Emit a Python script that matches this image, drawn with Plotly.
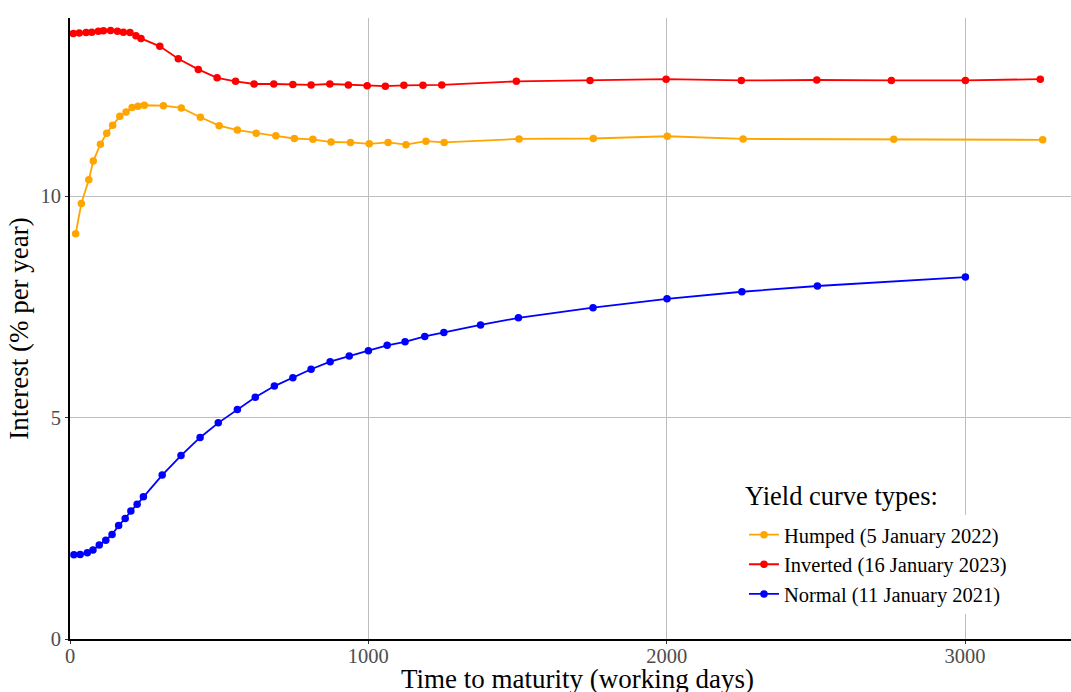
import plotly.graph_objects as go

# Maturities (working days) and annual rates (%) for each curve
humped_days = [19, 38, 63, 78, 102, 123, 143, 167, 188, 208, 228, 249, 313, 373, 437, 500,
               561, 624, 690, 752, 814, 875, 940, 1003, 1066, 1126, 1193, 1254, 1505, 1754,
               2002, 2256, 2761, 3260]
humped_rate = [9.15, 9.83, 10.37, 10.79, 11.17, 11.42, 11.60, 11.80, 11.90, 12.00, 12.03, 12.05,
               12.04, 11.99, 11.78, 11.59, 11.49, 11.42, 11.36, 11.30, 11.28, 11.22, 11.21, 11.18,
               11.21, 11.16, 11.24, 11.21, 11.29, 11.30, 11.35, 11.29, 11.28, 11.27]

inverted_days = [11, 31, 54, 73, 95, 112, 136, 159, 179, 201, 221, 238, 301, 363, 430, 493,
                 555, 617, 683, 747, 808, 871, 933, 996, 1057, 1119, 1183, 1246, 1496, 1743,
                 1998, 2250, 2503, 2753, 3001, 3252]
inverted_rate = [13.67, 13.68, 13.69, 13.70, 13.72, 13.73, 13.74, 13.72, 13.70, 13.69, 13.62, 13.56,
                 13.38, 13.10, 12.86, 12.67, 12.59, 12.53, 12.53, 12.52, 12.51, 12.53, 12.51, 12.49,
                 12.48, 12.50, 12.50, 12.51, 12.59, 12.61, 12.64, 12.61, 12.62, 12.61, 12.61, 12.64]

normal_days = [13, 34, 58, 77, 98, 120, 141, 163, 185, 204, 225, 246, 309, 372, 436, 497, 561,
               621, 685, 747, 808, 872, 936, 1000, 1063, 1123, 1189, 1253, 1376, 1503, 1753, 2001,
               2252, 2505, 3001]
normal_rate = [1.90, 1.91, 1.95, 2.01, 2.12, 2.23, 2.36, 2.56, 2.72, 2.89, 3.04, 3.21, 3.70, 4.14,
               4.55, 4.88, 5.18, 5.46, 5.71, 5.90, 6.09, 6.26, 6.39, 6.51, 6.63, 6.71, 6.83, 6.92,
               7.09, 7.25, 7.48, 7.68, 7.84, 7.97, 8.17]

series = [
    ("Humped (5 January 2022)", humped_days, humped_rate, "#FFA500"),
    ("Inverted (16 January 2023)", inverted_days, inverted_rate, "#FF0000"),
    ("Normal (11 January 2021)", normal_days, normal_rate, "#0000FF"),
]

FONT = "Liberation Serif, Times New Roman, serif"

fig = go.Figure()
for name, xs, ys, color in series:
    fig.add_trace(go.Scatter(
        x=xs, y=ys, name=name, mode="lines+markers",
        line=dict(color=color, width=1.8),
        marker=dict(color=color, size=7.5),
    ))

# white panel behind the legend block (hides gridlines, stays under the data)
fig.add_shape(
    type="rect", xref="paper", yref="paper",
    x0=0.667, x1=0.979, y0=0.0322, y1=0.2641,
    fillcolor="white", line=dict(width=0), layer="between",
)

# legend heading
fig.add_annotation(
    text="Yield curve types:", xref="paper", yref="paper",
    x=0.6723, y=0.2303, xanchor="left", yanchor="middle", showarrow=False,
    font=dict(size=26.5, family=FONT, color="black"),
)

# x-axis title
fig.add_annotation(
    text="Time to maturity (working days)", xref="paper", yref="paper",
    x=0.5065, y=-0.0641, xanchor="center", yanchor="middle", showarrow=False,
    font=dict(size=27, family=FONT, color="black"),
)

fig.update_layout(
    width=1071, height=692,
    margin=dict(l=70, r=0, t=18, b=53),
    paper_bgcolor="white", plot_bgcolor="white",
    font=dict(family=FONT, color="black"),
    showlegend=True,
    legend=dict(
        font=dict(size=20.5, family=FONT, color="black"),
        x=0.6733, xanchor="left", y=0.2, yanchor="top",
        bgcolor="white", traceorder="normal",
        itemwidth=30, tracegroupgap=0,
    ),
    xaxis=dict(
        range=[0, 3355], tickvals=[0, 1000, 2000, 3000],
        showgrid=True, gridcolor="#BEBEBE", gridwidth=1.4,
        showline=True, linecolor="black", linewidth=1.6,
        ticks="outside", ticklen=3, tickcolor="#333333",
        tickfont=dict(size=20.5, color="#4D4D4D", family=FONT),
        ticklabelstandoff=-5,
        zeroline=False,
    ),
    yaxis=dict(
        range=[0, 14.02], tickvals=[0, 5, 10],
        showgrid=True, gridcolor="#BEBEBE", gridwidth=1.4,
        showline=True, linecolor="black", linewidth=1.6,
        ticks="outside", ticklen=3, tickcolor="#333333",
        tickfont=dict(size=20.5, color="#4D4D4D", family=FONT),
        zeroline=False,
        title=dict(text="Interest (% per year)",
                   font=dict(size=27, family=FONT, color="black"), standoff=4),
    ),
)

fig.write_html("out.html")
